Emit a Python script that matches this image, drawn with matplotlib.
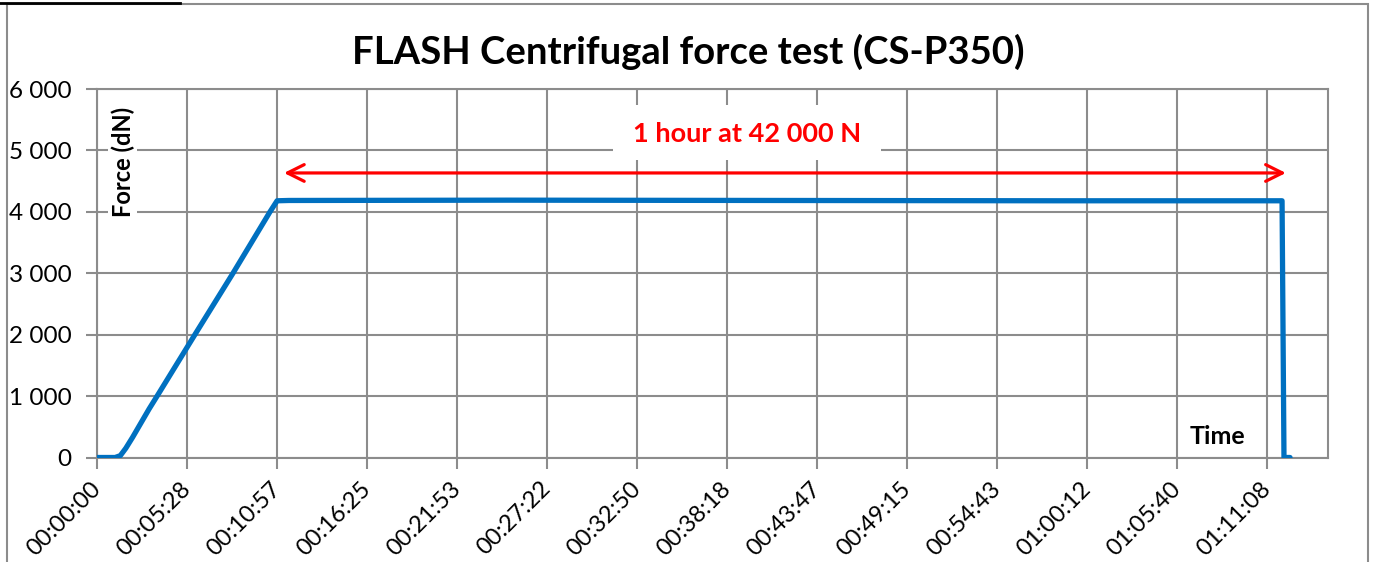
import matplotlib
matplotlib.use("Agg")
import matplotlib.pyplot as plt
from matplotlib.patches import Rectangle
from matplotlib.lines import Line2D

plt.rcParams['font.family'] = ['Lato', 'DejaVu Sans']

time_s = [0, 66, 85, 105, 130, 160, 190, 222, 357, 496, 631, 657,
          700, 1500, 2500, 3500, 4323, 4330, 4352]
force_dn = [0, 0, 30, 150, 330, 560, 790, 1020, 2000, 3000, 4000, 4180,
            4185, 4190, 4185, 4180, 4180, 0, 0]

tick_labels = ['00:00:00', '00:05:28', '00:10:57', '00:16:25', '00:21:53', '00:27:22',
               '00:32:50', '00:38:18', '00:43:47', '00:49:15', '00:54:43', '01:00:12',
               '01:05:40', '01:11:08']
tick_step = 4268 / 13
y_ticks = [0, 1000, 2000, 3000, 4000, 5000, 6000]
y_tick_labels = ['0', '1 000', '2 000', '3 000', '4 000', '5 000', '6 000']

# annotation span (the one hour plateau) and its label box
span_start, span_end, span_y = 682, 4337, 4633
label_x, label_y = 2371, 5269
box_x0, box_x1, box_y0, box_y1 = 1882, 2860, 4845, 5741

grid_col = '#8c8c8c'

fig = plt.figure(figsize=(13.73, 5.62), dpi=100)
ax = fig.add_axes([97 / 1373, 1 - 457.5 / 562, (1328 - 97) / 1373, (457.5 - 89) / 562])

ax.plot(time_s, force_dn, color='#0070C0', lw=3.8, solid_joinstyle='round',
        solid_capstyle='round', zorder=3)

xt = [i * tick_step for i in range(len(tick_labels))]
ax.set_xticks(xt)
ax.set_xticklabels(tick_labels, rotation=45, ha='right', va='center',
                   rotation_mode='anchor', fontsize=17)
ax.set_yticks(y_ticks)
ax.set_yticklabels(y_tick_labels, fontsize=17.5)
ax.set_xlim(0, 13.678 * tick_step)
ax.set_ylim(0, 6000)

ax.grid(True, color=grid_col, lw=1.5)
ax.set_axisbelow(True)
for s in ax.spines.values():
    s.set_color(grid_col)
    s.set_linewidth(1.5)
ax.tick_params(axis='both', direction='out', color=grid_col, width=1.5, length=8)
ax.tick_params(axis='x', pad=12)
ax.tick_params(axis='y', pad=10.5)

ax.annotate('', xy=(span_end, span_y), xytext=(span_start, span_y),
            arrowprops=dict(arrowstyle='<->', color='#FF0000', lw=2.3,
                            mutation_scale=30, shrinkA=0, shrinkB=0), zorder=4)
ax.add_patch(Rectangle((box_x0, box_y0), box_x1 - box_x0, box_y1 - box_y0,
                       facecolor='white', edgecolor='none', zorder=4))
ax.text(label_x, label_y, '1 hour at 42 000 N', color='#FF0000', fontsize=19.5,
        fontweight='bold', ha='center', va='center', zorder=5)

ax.text(0.021, 0.802, 'Force (dN)', transform=ax.transAxes, rotation=90,
        fontsize=17, fontweight='bold', ha='center', va='center',
        bbox=dict(facecolor='white', edgecolor='none', pad=2))
ax.text(0.91, 0.056, 'Time', transform=ax.transAxes, fontsize=18,
        fontweight='bold', ha='center', va='center')

fig.text(688 / 1373, 1 - 52 / 562, 'FLASH Centrifugal force test (CS-P350)',
         fontsize=27.5, fontweight='bold', ha='center', va='center')

# chart frame and the cut-off underline above it
fig.add_artist(Rectangle((7 / 1373, -0.1), (1368 - 7) / 1373, 1.1 - 4 / 562,
                         transform=fig.transFigure, fill=False,
                         edgecolor=grid_col, lw=1.5))
fig.add_artist(Line2D([0, 180 / 1373], [1 - 2.5 / 562, 1 - 2.5 / 562],
                      transform=fig.transFigure, color='black', lw=2))

fig.savefig('out.png', dpi=100)
